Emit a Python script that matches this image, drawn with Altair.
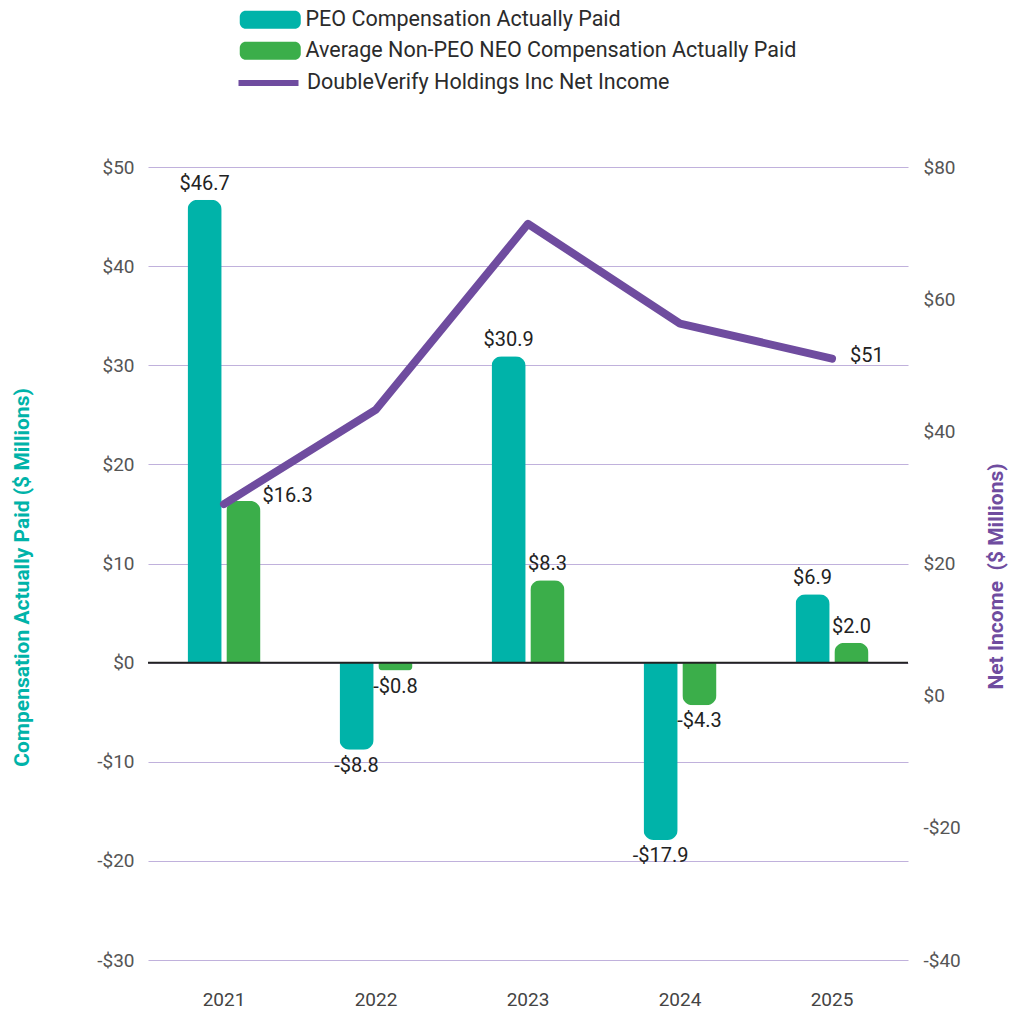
import altair as alt
import pandas as pd

years = ["2021", "2022", "2023", "2024", "2025"]
peo_cap = [46.7, -8.8, 30.9, -17.9, 6.9]
neo_cap = [16.3, -0.8, 8.3, -4.3, 2.0]
net_income = [29.0, 43.3, 71.4, 56.3, 51.0]

S_PEO = "PEO Compensation Actually Paid"
S_NEO = "Average Non-PEO NEO Compensation Actually Paid"
S_NI = "DoubleVerify Holdings Inc Net Income"

TEAL = "#00b3a9"
GREEN = "#3bae4a"
PURPLE = "#6f4c9f"
GRID = "#c0b1dc"
FONT = "Roboto"


def money(v, digits=1):
    s = f"{abs(v):.{digits}f}"
    return ("-$" if v < 0 else "$") + s


rows = []
for y, a, b in zip(years, peo_cap, neo_cap):
    rows.append({"year": y, "series": S_PEO, "value": a, "label": money(a)})
    rows.append({"year": y, "series": S_NEO, "value": b, "label": money(b)})
bars_df = pd.DataFrame(rows)
bars_df["special"] = (bars_df["year"] == "2021") & (bars_df["series"] == S_NEO)

line_df = pd.DataFrame({"year": years, "series": S_NI, "value": net_income,
                        "label": [money(v, 0) for v in net_income]})

# legend symbol shapes (unit = 10 px with symbolSize=400)
RECT = ("M-2.45,-0.9 L2.45,-0.9 A0.6,0.6 0 0 1 3.05,-0.3 L3.05,0.3 "
        "A0.6,0.6 0 0 1 2.45,0.9 L-2.45,0.9 A0.6,0.6 0 0 1 -3.05,0.3 "
        "L-3.05,-0.3 A0.6,0.6 0 0 1 -2.45,-0.9 Z")
LINE = "M-3.0,0 L3.0,0"

bar_legend = alt.Legend(
    title=None, orient="none", legendX=111.5, legendY=-158, direction="vertical",
    labelFont=FONT, labelFontSize=21.5, labelColor="#2b2b2b", labelOffset=24.5,
    symbolSize=400, symbolType=RECT, symbolStrokeWidth=0, symbolOpacity=1,
    rowPadding=8, labelLimit=700,
)
line_legend = alt.Legend(
    title=None, orient="none", legendX=107.5, legendY=-97, direction="vertical",
    labelFont=FONT, labelFontSize=21.5, labelColor="#2b2b2b", labelOffset=25.5,
    symbolSize=400, symbolType=LINE, symbolStrokeWidth=6, symbolOpacity=1,
    labelLimit=700,
)

x_enc = alt.X("year:N", sort=years,
              scale=alt.Scale(paddingInner=0.52, paddingOuter=0.26),
              axis=alt.Axis(title=None, domain=False, ticks=False, labelAngle=0,
                            labelFont=FONT, labelFontSize=19, labelColor="#444444",
                            labelPadding=30))
xoff = alt.XOffset("series:N", sort=[S_PEO, S_NEO],
                   scale=alt.Scale(domain=[S_PEO, S_NEO], paddingInner=0.12, paddingOuter=0))

money_expr = "datum.value < 0 ? '-$' + abs(datum.value) : '$' + datum.value"

y_left = alt.Y("value:Q",
               scale=alt.Scale(domain=[-30, 50], nice=False, zero=False),
               axis=alt.Axis(values=list(range(-30, 51, 10)), labelExpr=money_expr,
                             domain=False, ticks=False, grid=True, gridColor=GRID,
                             gridWidth=1.2, labelFont=FONT, labelFontSize=19,
                             labelColor="#555555", labelPadding=14,
                             title="Compensation Actually Paid ($ Millions)",
                             titleColor=TEAL, titleFont=FONT, titleFontSize=21,
                             titleFontWeight="bold", titleX=-126, titleY=410,
                             titleAngle=270, titleAlign="center", titleBaseline="middle"))

fill_enc = alt.Fill("series:N", scale=alt.Scale(domain=[S_PEO, S_NEO], range=[TEAL, GREEN]),
                    legend=bar_legend)

bars_pos = alt.Chart(bars_df).transform_filter("datum.value >= 0").mark_bar(
    cornerRadiusTopLeft=10, cornerRadiusTopRight=10).encode(
    x=x_enc, xOffset=xoff, y=y_left, fill=fill_enc)
bars_neg = alt.Chart(bars_df).transform_filter("datum.value < 0").mark_bar(
    cornerRadiusBottomLeft=10, cornerRadiusBottomRight=10).encode(
    x=x_enc, xOffset=xoff, y=alt.Y("value:Q"), fill=fill_enc)

txt_base = alt.Chart(bars_df).encode(
    x=x_enc, xOffset=xoff, y=alt.Y("value:Q"), text="label:N")
pos_txt = txt_base.transform_filter("datum.value >= 0 && !datum.special").mark_text(
    font=FONT, fontSize=20, color="#222222", baseline="bottom", dy=-6)
neg_txt = txt_base.transform_filter("datum.value < 0").mark_text(
    font=FONT, fontSize=20, color="#222222", baseline="top", dy=6)
spec_txt = txt_base.transform_filter("datum.special").mark_text(
    font=FONT, fontSize=20, color="#222222", baseline="middle", align="left", dx=19, dy=-5)

zero_rule = alt.Chart(pd.DataFrame({"z": [0]})).mark_rule(
    color="#222222", strokeWidth=2).encode(y=alt.datum(0))

left = alt.layer(bars_pos, bars_neg, pos_txt, neg_txt, spec_txt, zero_rule)

y_right = alt.Y("value:Q",
                scale=alt.Scale(domain=[-40, 80], nice=False, zero=False),
                axis=alt.Axis(orient="right", values=list(range(-40, 81, 20)),
                              labelExpr=money_expr, domain=False, ticks=False, grid=False,
                              labelFont=FONT, labelFontSize=19, labelColor="#555555",
                              labelPadding=15,
                              title="Net Income\u00a0 ($ Millions)", titleColor=PURPLE,
                              titleFont=FONT, titleFontSize=21, titleFontWeight="bold",
                              titleX=88, titleY=409, titleAngle=270, titleAlign="center",
                              titleBaseline="middle"))

line = alt.Chart(line_df).mark_line(strokeWidth=8, strokeCap="round", strokeJoin="round").encode(
    x=x_enc, y=y_right,
    stroke=alt.Stroke("series:N", scale=alt.Scale(domain=[S_NI], range=[PURPLE]),
                      legend=line_legend),
)
line_txt = alt.Chart(line_df).transform_filter("datum.year == '2025'").mark_text(
    font=FONT, fontSize=20, color="#222222", align="left", baseline="middle", dx=18, dy=-3
).encode(x=x_enc, y=alt.Y("value:Q"), text="label:N")

right = alt.layer(line, line_txt)

chart = alt.layer(left, right).resolve_scale(y="independent").properties(
    width=760, height=793,
    autosize=alt.AutoSizeParams(type="none"),
    padding={"left": 148, "top": 167, "right": 104, "bottom": 55},
    background="white",
).configure_view(stroke=None)

chart.save("out.html", embed_options={"renderer": "svg", "actions": False})
